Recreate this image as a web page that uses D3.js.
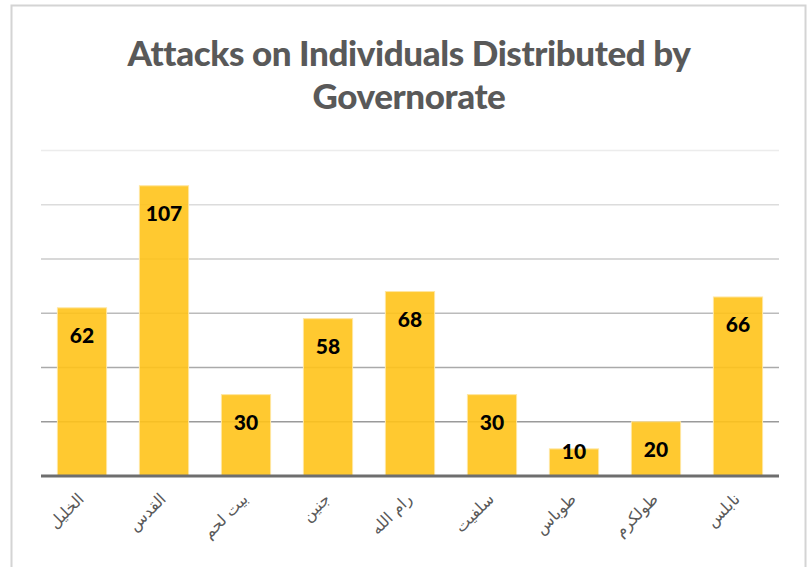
<!DOCTYPE html>
<html>
<head>
<meta charset="utf-8">
<script src="https://cdn.jsdelivr.net/npm/d3@7"></script>
<style>
  html, body { margin: 0; padding: 0; background: #fff; }
  svg { display: block; }
</style>
</head>
<body>
<svg id="chart" width="809" height="567"></svg>
<script>
// Governorates (x axis) and the number of attacks on individuals in each
const governorates = ["الخليل", "القدس", "بيت لحم", "جنين", "رام الله", "سلفيت", "طوباس", "طولكرم", "نابلس"];
const attacks = [62, 107, 30, 58, 68, 30, 10, 20, 66];
const gridTicks = [0, 20, 40, 60, 80, 100, 120];
const titleLines = ["Attacks on Individuals Distributed by", "Governorate"];

const svg = d3.select("#chart");
const plot = { left: 41, right: 779, top: 150.5, bottom: 476 };

// frame of the chart area
svg.append("rect")
  .attr("x", 11.5).attr("y", 5.5)
  .attr("width", 794).attr("height", 600)
  .attr("fill", "#fff")
  .attr("stroke", "#d4d4d4").attr("stroke-width", 2);

// title
svg.append("g").selectAll("text")
  .data(titleLines)
  .join("text")
  .attr("x", 409)
  .attr("y", (d, i) => 66 + i * 43)
  .attr("text-anchor", "middle")
  .attr("font-family", "Lato, 'Open Sans', sans-serif")
  .attr("font-weight", 900)
  .attr("font-size", 35)
  .attr("letter-spacing", -0.4)
  .attr("fill", "#595959")
  .text(d => d);

const x = d3.scaleBand()
  .domain(governorates)
  .range([plot.left, plot.right])
  .paddingInner(0.4)
  .paddingOuter(0.2);

const y = d3.scaleLinear()
  .domain([0, 120])
  .range([plot.bottom, plot.top]);

// horizontal gridlines, fading toward the top
const gridColor = d3.scaleLinear().domain([20, 120]).range(["#9a9a9a", "#ececec"]);
svg.append("g").selectAll("line")
  .data(gridTicks.filter(t => t > 0))
  .join("line")
  .attr("x1", plot.left).attr("x2", plot.right)
  .attr("y1", d => y(d)).attr("y2", d => y(d))
  .attr("stroke", d => gridColor(d))
  .attr("stroke-width", 1.5);

// bars
svg.append("g").selectAll("rect")
  .data(governorates.map((g, i) => ({ g, v: attacks[i] })))
  .join("rect")
  .attr("x", d => x(d.g))
  .attr("y", d => y(d.v))
  .attr("width", x.bandwidth())
  .attr("height", d => y(0) - y(d.v))
  .attr("fill", "#FFC31A")
  .attr("fill-opacity", 0.9)
  .attr("stroke", "#FFE6A0")
  .attr("stroke-width", 1);

// axis baseline
svg.append("line")
  .attr("x1", plot.left).attr("x2", plot.right)
  .attr("y1", y(0)).attr("y2", y(0))
  .attr("stroke", "#6e6e6e")
  .attr("stroke-width", 3);

// value labels inside the bar ends
svg.append("g").selectAll("text")
  .data(governorates.map((g, i) => ({ g, v: attacks[i] })))
  .join("text")
  .attr("x", d => x(d.g) + x.bandwidth() / 2)
  .attr("y", d => Math.min(y(d.v) + 35, y(0) - 17))
  .attr("text-anchor", "middle")
  .attr("font-family", "Lato, 'Open Sans', sans-serif")
  .attr("font-weight", 900)
  .attr("font-size", 21)
  .attr("fill", "#000")
  .text(d => d.v);

// rotated category labels
svg.append("g").selectAll("text")
  .data(governorates)
  .join("text")
  .attr("transform", d => `translate(${x(d) + x.bandwidth() / 2 + 3},${y(0) + 24}) rotate(-45)`)
  .attr("text-anchor", "end")
  .attr("font-family", "'DejaVu Sans', sans-serif")
  .attr("font-size", 16)
  .attr("fill", "#595959")
  .text(d => d);
</script>
</body>
</html>
